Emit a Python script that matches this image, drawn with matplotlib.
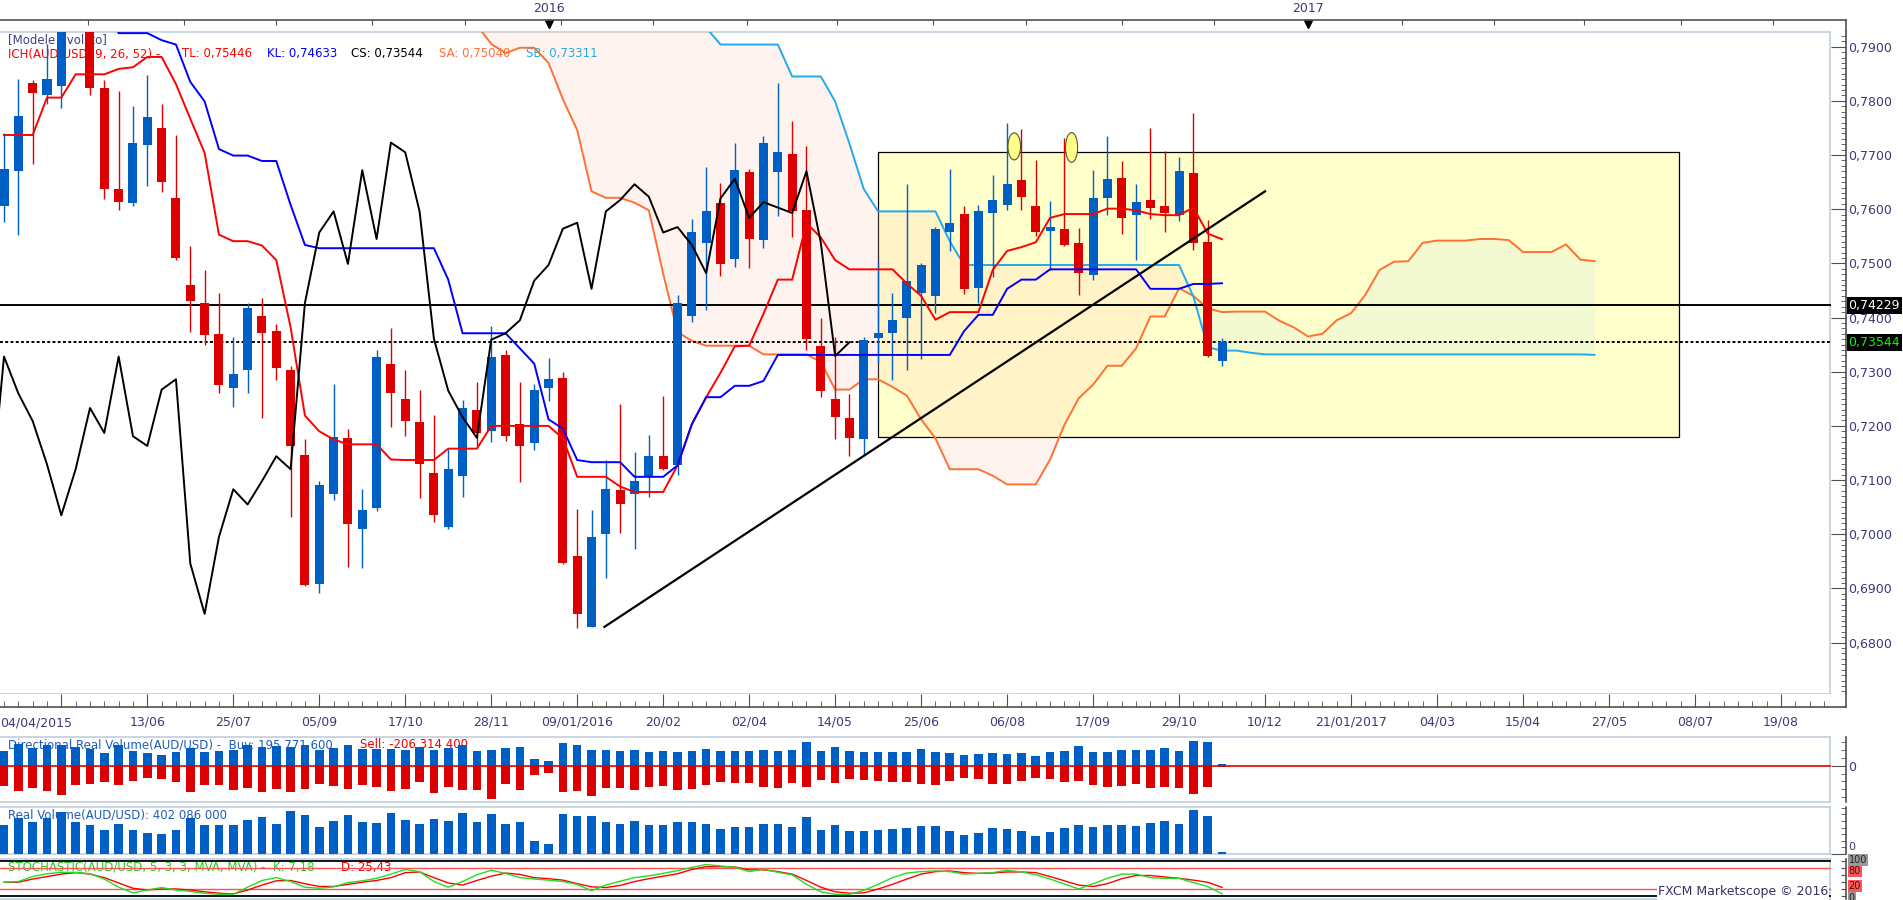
"""
AUD/USD weekly Ichimoku chart in the FXCM Marketscope look:
price pane with cloud, range box and trend line, then directional volume,
real volume and a stochastic pane underneath.
"""
import matplotlib
matplotlib.use("Agg")
import matplotlib.pyplot as plt
import numpy as np
import pandas as pd
from matplotlib.patches import Ellipse, Rectangle
from matplotlib.ticker import FixedLocator, FuncFormatter, MultipleLocator
from matplotlib.transforms import blended_transform_factory as blend, offset_copy

START = pd.Timestamp("2015-04-04")  # week 0 of the chart

# ---- weekly candles, week 0 = 04/04/2015 ----
OPEN = [0.7606, 0.7671, 0.7833, 0.7810, 0.7828, 0.7965, 0.8050, 0.7824, 0.7637, 0.7612,
        0.7719, 0.7750, 0.7620, 0.7461, 0.7426, 0.7369, 0.7270, 0.7304, 0.7402, 0.7375,
        0.7304, 0.7147, 0.6909, 0.7074, 0.7177, 0.7009, 0.7048, 0.7315, 0.7250, 0.7207,
        0.7113, 0.7013, 0.7108, 0.7230, 0.7191, 0.7331, 0.7204, 0.7168, 0.7270, 0.7289,
        0.6959, 0.6829, 0.7000, 0.7081, 0.7074, 0.7106, 0.7144, 0.7127, 0.7403, 0.7538,
        0.7611, 0.7508, 0.7668, 0.7543, 0.7669, 0.7702, 0.7598, 0.7347, 0.7249, 0.7214,
        0.7175, 0.7362, 0.7371, 0.7399, 0.7446, 0.7440, 0.7558, 0.7591, 0.7455, 0.7593,
        0.7608, 0.7654, 0.7605, 0.7560, 0.7563, 0.7537, 0.7478, 0.7621, 0.7657, 0.7590,
        0.7617, 0.7605, 0.7589, 0.7666, 0.7539, 0.7320]
HIGH = [0.7740, 0.7840, 0.7838, 0.7905, 0.8000, 0.8165, 0.8090, 0.7838, 0.7818, 0.7791,
        0.7847, 0.7794, 0.7737, 0.7532, 0.7487, 0.7446, 0.7364, 0.7426, 0.7437, 0.7388,
        0.7310, 0.7175, 0.7098, 0.7278, 0.7195, 0.7083, 0.7341, 0.7380, 0.7304, 0.7267,
        0.7221, 0.7157, 0.7248, 0.7281, 0.7384, 0.7340, 0.7281, 0.7278, 0.7325, 0.7300,
        0.7046, 0.7044, 0.7137, 0.7240, 0.7151, 0.7184, 0.7256, 0.7442, 0.7582, 0.7678,
        0.7648, 0.7723, 0.7675, 0.7736, 0.7833, 0.7762, 0.7716, 0.7400, 0.7364, 0.7258,
        0.7364, 0.7502, 0.7446, 0.7646, 0.7500, 0.7568, 0.7674, 0.7605, 0.7608, 0.7663,
        0.7759, 0.7748, 0.7690, 0.7615, 0.7732, 0.7566, 0.7672, 0.7735, 0.7689, 0.7646,
        0.7750, 0.7707, 0.7696, 0.7778, 0.7580, 0.7362]
LOW = [0.7576, 0.7552, 0.7684, 0.7794, 0.7787, 0.7945, 0.7811, 0.7619, 0.7599, 0.7605,
       0.7643, 0.7632, 0.7506, 0.7373, 0.7350, 0.7261, 0.7235, 0.7261, 0.7214, 0.7284,
       0.7032, 0.6905, 0.6892, 0.7064, 0.6939, 0.6938, 0.7042, 0.7198, 0.7182, 0.7067,
       0.7023, 0.7010, 0.7069, 0.7163, 0.7170, 0.7172, 0.7097, 0.7156, 0.7246, 0.6945,
       0.6827, 0.6828, 0.6919, 0.7002, 0.6972, 0.7069, 0.7118, 0.7110, 0.7391, 0.7414,
       0.7477, 0.7494, 0.7491, 0.7528, 0.7587, 0.7548, 0.7340, 0.7253, 0.7175, 0.7144,
       0.7147, 0.7316, 0.7284, 0.7303, 0.7323, 0.7408, 0.7523, 0.7443, 0.7426, 0.7474,
       0.7599, 0.7599, 0.7550, 0.7488, 0.7532, 0.7441, 0.7470, 0.7589, 0.7555, 0.7506,
       0.7582, 0.7557, 0.7578, 0.7525, 0.7328, 0.7310]
CLOSE = [0.7675, 0.7772, 0.7815, 0.7840, 0.7965, 0.8050, 0.7824, 0.7638, 0.7613, 0.7722,
         0.7770, 0.7651, 0.7509, 0.7431, 0.7368, 0.7276, 0.7295, 0.7417, 0.7371, 0.7307,
         0.7163, 0.6907, 0.7090, 0.7180, 0.7018, 0.7045, 0.7328, 0.7260, 0.7209, 0.7129,
         0.7035, 0.7120, 0.7233, 0.7187, 0.7328, 0.7181, 0.7163, 0.7267, 0.7286, 0.6946,
         0.6853, 0.6995, 0.7083, 0.7055, 0.7098, 0.7144, 0.7120, 0.7427, 0.7557, 0.7596,
         0.7499, 0.7672, 0.7545, 0.7723, 0.7705, 0.7596, 0.7361, 0.7265, 0.7216, 0.7178,
         0.7359, 0.7371, 0.7395, 0.7468, 0.7497, 0.7564, 0.7575, 0.7453, 0.7596, 0.7617,
         0.7646, 0.7623, 0.7557, 0.7567, 0.7534, 0.7482, 0.7620, 0.7656, 0.7584, 0.7613,
         0.7603, 0.7593, 0.7670, 0.7538, 0.7329, 0.73544]

# ---- Ichimoku lines as drawn on the chart ----
TENKAN = [0.7737, 0.7737, 0.7737, 0.7806, 0.7806, 0.7849, 0.7849, 0.7849, 0.7859, 0.7862,
          0.7881, 0.7881, 0.7831, 0.7767, 0.7704, 0.7553, 0.7541, 0.7541, 0.7533, 0.7506,
          0.7382, 0.7219, 0.7190, 0.7175, 0.7166, 0.7166, 0.7166, 0.7138, 0.7137, 0.7137,
          0.7137, 0.7158, 0.7158, 0.7158, 0.7200, 0.7200, 0.7200, 0.7200, 0.7200, 0.7177,
          0.7106, 0.7106, 0.7106, 0.7088, 0.7078, 0.7078, 0.7078, 0.7127, 0.7203, 0.7253,
          0.7298, 0.7347, 0.7348, 0.7407, 0.7470, 0.7470, 0.7574, 0.7548, 0.7506, 0.7489,
          0.7489, 0.7489, 0.7489, 0.7463, 0.7440, 0.7396, 0.7410, 0.7410, 0.7410, 0.7488,
          0.7523, 0.7530, 0.7539, 0.7584, 0.7591, 0.7591, 0.7591, 0.7601, 0.7601, 0.7598,
          0.7591, 0.7589, 0.7589, 0.7603, 0.7555, 0.75446]
KIJUN = [0.7985, 0.7985, 0.7985, 0.7985, 0.7985, 0.7985, 0.7985, 0.7985, 0.7925, 0.7925,
         0.7925, 0.7912, 0.7904, 0.7835, 0.7799, 0.7711, 0.7699, 0.7699, 0.7689, 0.7689,
         0.7608, 0.7534, 0.7528, 0.7528, 0.7528, 0.7528, 0.7528, 0.7528, 0.7528, 0.7528,
         0.7528, 0.7470, 0.7371, 0.7371, 0.7371, 0.7371, 0.7343, 0.7315, 0.7212, 0.7195,
         0.7137, 0.7133, 0.7133, 0.7133, 0.7106, 0.7106, 0.7106, 0.7127, 0.7203, 0.7253,
         0.7253, 0.7274, 0.7274, 0.7283, 0.7331, 0.7331, 0.7331, 0.7331, 0.7331, 0.7331,
         0.7331, 0.7331, 0.7331, 0.7331, 0.7331, 0.7331, 0.7331, 0.7375, 0.7405, 0.7405,
         0.7453, 0.7470, 0.7470, 0.7489, 0.7489, 0.7489, 0.7489, 0.7489, 0.7489, 0.7489,
         0.7453, 0.7453, 0.7453, 0.7462, 0.7462, 0.74633]
CLOUD_FIRST_WEEK = 33  # senkou spans below start here and run 26 weeks past the last candle
SENKOU_A = [0.7940, 0.7905, 0.7888, 0.7898, 0.7898, 0.7870, 0.7803, 0.7746, 0.7633, 0.7621,
            0.7621, 0.7612, 0.7598, 0.7481, 0.7373, 0.7357, 0.7348, 0.7348, 0.7348, 0.7348,
            0.7332, 0.7332, 0.7332, 0.7332, 0.7318, 0.7267, 0.7267, 0.7286, 0.7286, 0.7272,
            0.7256, 0.7212, 0.7177, 0.7120, 0.7120, 0.7120, 0.7108, 0.7092, 0.7092, 0.7092,
            0.7138, 0.7202, 0.7251, 0.7276, 0.7311, 0.7311, 0.7343, 0.7402, 0.7402, 0.7454,
            0.7440, 0.7417, 0.7410, 0.7411, 0.7411, 0.7411, 0.7394, 0.7382, 0.7365, 0.7370,
            0.7395, 0.7408, 0.7442, 0.7488, 0.7503, 0.7504, 0.7538, 0.7542, 0.7542, 0.7542,
            0.7545, 0.7545, 0.7543, 0.7521, 0.7521, 0.7521, 0.7535, 0.7507, 0.75040]
SENKOU_B = [0.7990] * 16 + [0.7935, 0.7904, 0.7904, 0.7904, 0.7904, 0.7904, 0.7845, 0.7845,
            0.7845, 0.7799, 0.7721, 0.7637, 0.7596, 0.7596, 0.7596, 0.7596, 0.7596, 0.7541,
            0.7497] + [0.7497] * 15 + [0.7439, 0.7345, 0.7339, 0.7339, 0.7335] \
    + [0.7332] * 23 + [0.73311]

# ---- volume panes (millions) ----
BUY = [109, 162, 134, 154, 159, 139, 124, 94, 154, 109,
       94, 78, 104, 134, 104, 109, 116, 154, 142, 147,
       142, 154, 116, 134, 154, 129, 129, 129, 116, 142,
       116, 134, 154, 109, 116, 134, 139, 48, 33, 170,
       154, 116, 116, 111, 116, 101, 111, 101, 111, 124,
       111, 111, 111, 116, 111, 116, 177, 111, 139, 111,
       101, 101, 101, 101, 124, 101, 94, 78, 86, 94,
       86, 94, 71, 101, 111, 147, 101, 101, 116, 116,
       116, 132, 111, 185, 180, 10]
SELL = [154, 192, 170, 192, 225, 149, 139, 124, 149, 116,
        94, 101, 124, 200, 149, 144, 185, 170, 200, 175,
        200, 180, 137, 157, 175, 149, 165, 195, 175, 124,
        210, 165, 185, 185, 251, 142, 182, 71, 56, 200,
        192, 230, 170, 170, 187, 165, 157, 187, 180, 149,
        127, 134, 134, 165, 172, 134, 165, 111, 134, 104,
        111, 119, 127, 127, 142, 149, 119, 96, 104, 142,
        142, 119, 96, 104, 127, 119, 149, 165, 157, 142,
        172, 165, 172, 218, 165, 13]
VOLUME = [265, 326, 290, 326, 381, 290, 265, 217, 272, 217,
          189, 183, 217, 326, 259, 265, 259, 311, 339, 272,
          390, 357, 247, 302, 354, 290, 281, 375, 308, 272,
          320, 302, 372, 290, 363, 272, 290, 119, 89, 363,
          348, 345, 290, 272, 302, 265, 265, 293, 293, 275,
          229, 247, 247, 275, 275, 247, 339, 220, 265, 211,
          211, 220, 229, 238, 256, 256, 211, 174, 192, 238,
          229, 211, 165, 201, 238, 265, 247, 265, 265, 256,
          284, 302, 275, 402, 342, 21]

# ---- stochastic %K / %D ----
STOCH_K = [40, 42, 56, 64, 68, 68, 64, 49, 26, 10,
           18, 25, 18, 14, 9, 6, 6, 26, 45, 53,
           42, 26, 23, 27, 39, 44, 51, 63, 76, 70,
           42, 26, 42, 61, 74, 65, 53, 49, 46, 42,
           34, 16, 32, 43, 53, 58, 65, 73, 82, 90,
           86, 82, 70, 77, 68, 61, 34, 13, 6, 6,
           17, 34, 53, 66, 70, 72, 70, 63, 65, 67,
           74, 69, 61, 49, 35, 21, 36, 51, 63, 63,
           53, 51, 51, 39, 28, 7.18]
STOCH_D = [40, 40, 49, 56, 63, 67, 63, 53, 38, 23,
           18, 21, 21, 18, 13, 9, 7, 18, 32, 44,
           45, 36, 28, 28, 34, 40, 45, 53, 67, 69,
           53, 38, 32, 45, 57, 66, 62, 53, 50, 46,
           36, 27, 25, 31, 42, 50, 57, 64, 76, 84,
           84, 83, 75, 75, 70, 63, 45, 26, 13, 9,
           10, 21, 34, 49, 63, 70, 72, 67, 65, 66,
           69, 69, 67, 56, 44, 32, 28, 36, 50, 59,
           59, 55, 51, 46, 40, 25.43]

# ---- drawn objects and reference levels ----
LEVEL_SOLID = 0.74229
LEVEL_DOTTED = 0.73544
TREND = ([41.9, 88.0], [0.6829, 0.7633])
RANGE_BOX = (61.0, 116.9, 0.7179, 0.7705)     # week from, week to, low, high
MARKS = [(70.5, 0.7716, 0.88, 0.0050), (74.5, 0.7714, 0.84, 0.0055)]

# ---- time axis ----
DATE_WEEKS = list(range(4, 125, 6))
DATE_LABELS = ["", "13/06", "25/07", "05/09", "17/10", "28/11", "09/01/2016", "20/02",
               "02/04", "14/05", "25/06", "06/08", "17/09", "29/10", "10/12",
               "21/01/2017", "04/03", "15/04", "27/05", "08/07", "19/08"]
TOP_TICK_DATES = ["2015-05-15", "2015-07-01", "2015-08-15", "2015-10-01", "2015-11-15",
                  "2016-01-01", "2016-02-15", "2016-04-01", "2016-05-15", "2016-07-01",
                  "2016-08-15", "2016-10-01", "2016-11-15", "2017-01-01", "2017-02-15",
                  "2017-04-01", "2017-05-15", "2017-07-01", "2017-08-15"]
# year markers sit on the weekly bar that holds 1 January
YEAR_MARKS = [("2016", "2015-12-26"), ("2017", "2016-12-31")]

# ---- layout (pixels) and colours ----
W, H, DPI = 1903, 900, 100
PX_WEEK, PX_WEEK0 = 14.33, 4.0
X_FRAME, X_AXIS = 1830, 1846
XLIM = ((0 - PX_WEEK0) / PX_WEEK, (X_AXIS - PX_WEEK0) / PX_WEEK)
W_FRAME = (X_FRAME - PX_WEEK0) / PX_WEEK
FRAME_FRAC = X_FRAME / X_AXIS

BLUE, RED = "#005FC4", "#DD0000"
BORDER, AXIS_C, LABEL_C = "#C2CEDC", "#505050", "#3A3A78"
SA_C, SB_C = "#FF7033", "#22AAEE"


def px_box(x0, y0, x1, y1):
    return [x0 / W, 1 - y1 / H, (x1 - x0) / W, (y1 - y0) / H]


def fpos(x, y):
    return x / W, 1 - y / H


def weeks_of(dates):
    return [(pd.Timestamp(d) - START).days / 7.0 for d in dates]


def frame(a):
    """Light-blue pane border that stops short of the dark price-axis line."""
    for s in ("left", "top", "bottom"):
        a.spines[s].set_visible(False)
    a.spines["right"].set_color(AXIS_C)
    a.spines["right"].set_linewidth(1.2)
    kw = dict(transform=a.transAxes, color=BORDER, lw=1.2, clip_on=False, zorder=0.5)
    a.plot([0, FRAME_FRAC], [1, 1], **kw)
    a.plot([0, FRAME_FRAC], [0, 0], **kw)
    a.plot([FRAME_FRAC, FRAME_FRAC], [0, 1], **kw)
    a.set_xlim(*XLIM)
    a.set_xticks([])
    a.yaxis.tick_right()
    a.tick_params(axis="y", which="both", direction="in", color=AXIS_C,
                  labelsize=9, labelcolor=LABEL_C, pad=1.5)
    a.tick_params(axis="y", which="major", length=10.8)
    a.tick_params(axis="y", which="minor", length=3.8)


def main() -> None:
    fig = plt.figure(figsize=(W / DPI, H / DPI), dpi=DPI)
    fig.patch.set_facecolor("white")

    ax_top = fig.add_axes(px_box(0, 20, X_AXIS, 32))
    ax = fig.add_axes(px_box(0, 32, X_AXIS, 694))
    ax_date = fig.add_axes(px_box(0, 694, X_AXIS, 707))
    ax2 = fig.add_axes(px_box(0, 737, X_AXIS, 802))
    ax3 = fig.add_axes(px_box(0, 807, X_AXIS, 854))
    ax4 = fig.add_axes(px_box(0, 859, X_AXIS, 898.5))

    # ---------------- price pane ----------------
    frame(ax)
    weeks = np.arange(len(CLOSE))
    o, h, l, c = map(np.asarray, (OPEN, HIGH, LOW, CLOSE))
    col = np.where(c >= o, BLUE, RED)

    x0, x1, lo, hi = RANGE_BOX
    ax.add_patch(Rectangle((x0, lo), x1 - x0, hi - lo, fc="#FFFFCC", ec="black",
                           lw=0.9, zorder=1))

    cw = np.arange(CLOUD_FIRST_WEEK, CLOUD_FIRST_WEEK + len(SENKOU_A))
    sa, sb = np.asarray(SENKOU_A), np.asarray(SENKOU_B)
    ax.fill_between(cw, sa, sb, where=sb >= sa, interpolate=True,
                    color=(1.0, 0.78, 0.70), alpha=0.2, lw=0, zorder=2)
    ax.fill_between(cw, sa, sb, where=sa >= sb, interpolate=True,
                    color=(0.765, 0.902, 0.918), alpha=0.2, lw=0, zorder=2)
    ax.plot(cw, sa, color=SA_C, lw=1.4, zorder=4)
    ax.plot(cw, sb, color=SB_C, lw=1.4, zorder=4)

    ax.plot([XLIM[0], W_FRAME], [LEVEL_SOLID] * 2, color="black", lw=1.4, zorder=5)
    ax.plot([XLIM[0], W_FRAME], [LEVEL_DOTTED] * 2, color="black", lw=1.4,
            ls=(0, (1.5, 1.2)), zorder=5)

    ax.vlines(weeks, l, h, colors=col, lw=1.0, zorder=6)
    ax.bar(weeks, np.maximum(np.abs(c - o), 0.00025), bottom=np.minimum(o, c),
           width=0.63, color=col, lw=0, zorder=6)

    ax.plot(weeks, TENKAN, color="#FF0000", lw=1.4, zorder=7)
    ax.plot(weeks, KIJUN, color="#0000FF", lw=1.4, zorder=7)
    # chikou span: closes drawn 26 weeks back
    ax.plot(np.arange(-1, len(CLOSE) - 26), CLOSE[25:], color="black", lw=1.4, zorder=7)

    ax.plot(*TREND, color="black", lw=1.6, zorder=8)
    for wx, py, ew, eh in MARKS:
        ax.add_patch(Ellipse((wx, py), ew, eh, fc="#FFFF88", ec="#555533", lw=0.8,
                             zorder=9))

    ax.set_ylim(0.67051, 0.79271)
    ax.yaxis.set_major_locator(MultipleLocator(0.01))
    ax.yaxis.set_minor_locator(MultipleLocator(0.001))
    ax.yaxis.set_major_formatter(FuncFormatter(lambda v, _: f"{v:.4f}".replace(".", ",")))
    ax.tick_params(axis="y", which="major", length=10.8)

    rtrans = blend(ax.transAxes, ax.transData)
    for lvl, fg in ((LEVEL_SOLID, "white"), (LEVEL_DOTTED, "#00FF00")):
        ax.text(1 + 2.5 / X_AXIS, lvl, f"{lvl:.5f}".replace(".", ","), transform=rtrans,
                ha="left", va="center", fontsize=9, color=fg, clip_on=False, zorder=10,
                bbox=dict(boxstyle="square,pad=0.15", fc="black", ec="none"))

    # indicator legend, top-left (sits under the candles like the original)
    ax.text(*fpos(8.5, 40), "[Modele : volsto]", transform=fig.transFigure,
            fontsize=8.5, color="#404080", va="center", zorder=3)
    parts = [(8.5, "ICH(AUD/USD, 9, 26, 52) - ", "#FF0000"),
             (182, "TL: 0,75446", "#FF0000"), (267, "KL: 0,74633", "#0000FF"),
             (351, "CS: 0,73544", "black"), (439, "SA: 0,75040", SA_C),
             (526, "SB: 0,73311", SB_C)]
    for px, txt, cc in parts:
        ax.text(*fpos(px, 54), txt, transform=fig.transFigure, fontsize=8.5,
                color=cc, va="center", zorder=3)

    # ---------------- top time strip ----------------
    ax_top.set_xlim(*XLIM)
    ax_top.set_ylim(0, 1)
    for s in ("left", "bottom"):
        ax_top.spines[s].set_visible(False)
    for s in ("top", "right"):
        ax_top.spines[s].set_color(AXIS_C)
        ax_top.spines[s].set_linewidth(1.2)
    ax_top.set_yticks([])
    ax_top.set_xticks(weeks_of(TOP_TICK_DATES))
    ax_top.tick_params(axis="x", top=True, bottom=False, labeltop=False,
                       labelbottom=False, direction="in", length=3.6, color=AXIS_C)
    ytr = blend(ax_top.transData, fig.transFigure)
    for txt, d in YEAR_MARKS:
        wk = weeks_of([d])[0]
        ax_top.text(wk, 1 - 9 / H, txt, transform=ytr, ha="center", va="center",
                    fontsize=9, color=LABEL_C, clip_on=False)
        ax_top.plot([wk], [0.7], marker="v", ms=6, color="black", ls="none",
                    clip_on=False)

    # ---------------- bottom time axis ----------------
    ax_date.set_xlim(*XLIM)
    ax_date.set_ylim(0, 1)
    for s in ("left", "top"):
        ax_date.spines[s].set_visible(False)
    for s in ("bottom", "right"):
        ax_date.spines[s].set_color(AXIS_C)
        ax_date.spines[s].set_linewidth(1.2)
    ax_date.set_yticks([])
    ax_date.xaxis.set_major_locator(FixedLocator(DATE_WEEKS))
    ax_date.set_xticklabels(DATE_LABELS)
    ax_date.xaxis.set_minor_locator(FixedLocator(np.arange(0, 128)))
    ax_date.tick_params(axis="x", which="both", direction="in", color=AXIS_C,
                        labelsize=9, labelcolor=LABEL_C, pad=6)
    ax_date.tick_params(axis="x", which="major", length=9.4)
    ax_date.tick_params(axis="x", which="minor", length=4.3)
    ax_date.text(XLIM[0], 1 - 723 / H, "04/04/2015", ha="left", va="center",
                 transform=blend(ax_date.transData, fig.transFigure), fontsize=9,
                 color=LABEL_C)

    # ---------------- directional real volume ----------------
    frame(ax2)
    ax2.bar(weeks, BUY, width=0.6, color=BLUE, lw=0, zorder=2)
    ax2.bar(weeks, [-s for s in SELL], width=0.6, color=RED, lw=0, zorder=2)
    ax2.plot([XLIM[0], W_FRAME], [0, 0], color="#E00000", lw=1.2, zorder=3)
    ax2.set_ylim(-276, 218)
    ax2.yaxis.set_major_locator(FixedLocator([0]))
    ax2.yaxis.set_minor_locator(FixedLocator([-240, -180, -120, -60, 60, 120, 180]))
    ax2.yaxis.set_major_formatter(FuncFormatter(lambda v, _: "0"))
    ax2.text(*fpos(8, 745), "Directional Real Volume(AUD/USD) -  Buy: 195 771 600",
             transform=fig.transFigure, fontsize=8.5, color="#1E5BB8", va="center",
             zorder=1)
    ax2.text(*fpos(360, 745), "Sell: -206 314 400", transform=fig.transFigure,
             fontsize=8.5, color="#EE0000", va="center", zorder=1)

    # ---------------- real volume ----------------
    frame(ax3)
    ax3.bar(weeks, VOLUME, width=0.6, color=BLUE, lw=0, zorder=2)
    ax3.set_ylim(0, 427)
    ax3.yaxis.set_major_locator(FixedLocator([0]))
    ax3.yaxis.set_minor_locator(FixedLocator(np.arange(60, 427, 60)))
    ax3.tick_params(axis="y", which="major", labelright=False)
    # the pane's zero label is nudged up so it clears the stochastic "100" box
    ax3.text(*fpos(1848, 847), "0", transform=fig.transFigure, fontsize=8,
             color=LABEL_C, ha="left", va="center")
    ax3.text(*fpos(8, 815), "Real Volume(AUD/USD): 402 086 000",
             transform=fig.transFigure, fontsize=8.5, color="#1E5BB8", va="center",
             zorder=1)

    # ---------------- stochastic ----------------
    frame(ax4)
    ax4.set_ylim(-5.9, 105.6)
    for lvl, cc, lw in ((100, "black", 1.3), (0, "black", 1.3),
                        (80, "#FF5050", 1.0), (20, "#FF5050", 1.0)):
        ax4.plot([XLIM[0], W_FRAME], [lvl, lvl], color=cc, lw=lw, zorder=2)
    ax4.plot(weeks, STOCH_D, color="#FF0000", lw=1.0, zorder=3)
    ax4.plot(weeks, STOCH_K, color="#22DD22", lw=1.0, zorder=3)
    ax4.yaxis.set_major_locator(FixedLocator([0, 20, 40, 60, 80, 100]))
    ax4.tick_params(axis="y", which="major", length=3.8, labelright=False)
    strans = blend(ax4.transAxes, ax4.transData)
    # level boxes; small pixel nudges keep the tightly packed boxes apart
    for lvl, txt, fc, dy in ((80, "80", "#FF5555", -3.4), (20, "20", "#FF5555", 3.3),
                             (0, "0", "#999999", -1.2), (100, "100", "#999999", 1.0)):
        tr = offset_copy(strans, fig=fig, y=dy * 72 / DPI, units="points")
        ax4.text(1 + 2.5 / X_AXIS, lvl, txt, transform=tr, ha="left", va="center",
                 fontsize=7, color="#222222", clip_on=False, zorder=10,
                 bbox=dict(boxstyle="square,pad=0.1", fc=fc, ec="none"))
    ax4.text(*fpos(8, 867), "STOCHASTIC(AUD/USD, 5, 3, 3, MVA, MVA) -  K: 7,18",
             transform=fig.transFigure, fontsize=8.5, color="#22CC22", va="center",
             zorder=1)
    ax4.text(*fpos(341, 867), "D: 25,43", transform=fig.transFigure, fontsize=8.5,
             color="#EE0000", va="center", zorder=1)

    fig.text(*fpos(1828, 892), "FXCM Marketscope \u00a9 2016", ha="right", va="center",
             fontsize=9, color="#333366", zorder=20,
             bbox=dict(boxstyle="square,pad=0.1", fc="white", ec="none"))

    fig.savefig("out.png", dpi=DPI, facecolor="white")


if __name__ == "__main__":
    main()
